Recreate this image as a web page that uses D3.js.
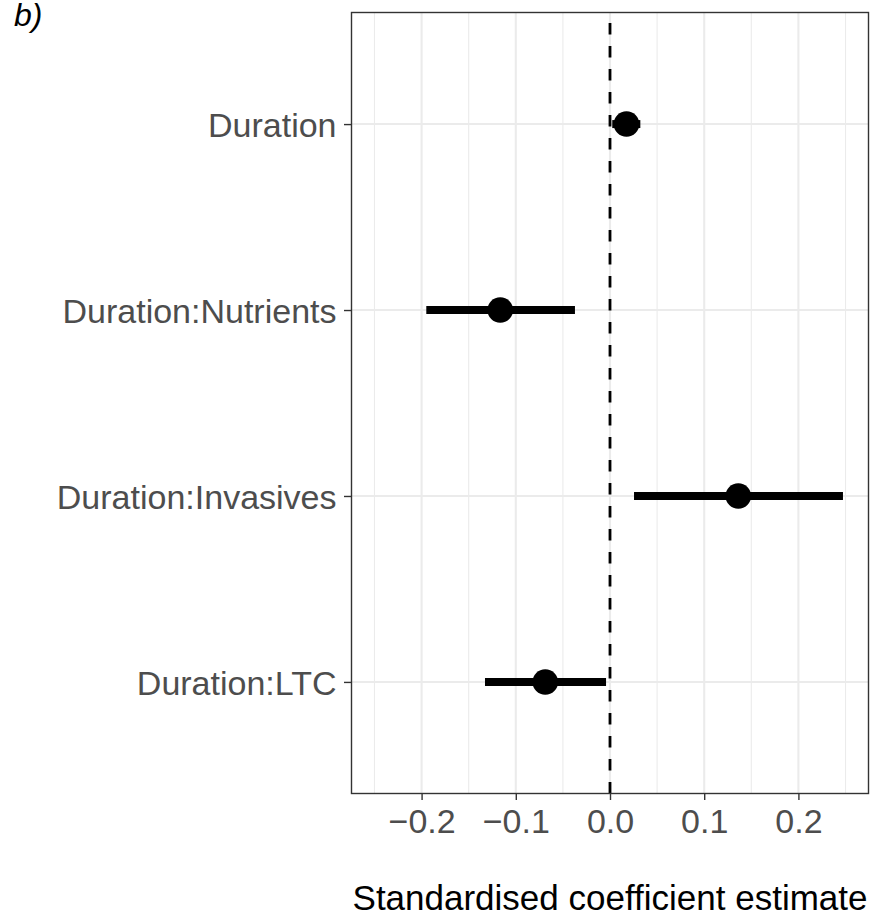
<!DOCTYPE html>
<html>
<head>
<meta charset="utf-8">
<script src="https://cdn.jsdelivr.net/npm/d3@7"></script>
<style>
  body { margin: 0; background: #ffffff; }
  svg { display: block; font-family: "Liberation Sans", Arial, sans-serif; }
</style>
</head>
<body>
<div id="chart"></div>
<script>
// coefficient table, top to bottom
var terms = ['Duration', 'Duration:Nutrients', 'Duration:Invasives', 'Duration:LTC'];
var estimates = [0.0175, -0.1165, 0.1362, -0.0687];
var lower = [0.0024, -0.195, 0.0255, -0.1327];
var upper = [0.0322, -0.0372, 0.2473, -0.0042];
var xTicks = [-0.2, -0.1, 0.0, 0.1, 0.2];
var xMinor = [-0.25, -0.15, -0.05, 0.05, 0.15, 0.25];

var outerWidth = 873;
var outerHeight = 915;
var panel = {left: 351.5, right: 868.5, top: 12.5, bottom: 793.5};

var svg = d3.select('#chart').append('svg')
  .attr('width', outerWidth)
  .attr('height', outerHeight);

svg.append('rect')
  .attr('width', outerWidth)
  .attr('height', outerHeight)
  .attr('fill', '#ffffff');

var x = d3.scaleLinear()
  .domain([-0.2744, 0.2744])
  .range([panel.left, panel.right]);

var y = d3.scalePoint()
  .domain(terms)
  .range([panel.top, panel.bottom])
  .padding(0.6);

var data = terms.map(function (t, i) {
  return {term: t, est: estimates[i], lo: lower[i], hi: upper[i]};
});

// grid
var grid = svg.append('g');
grid.selectAll('line.minor')
  .data(xMinor)
  .enter().append('line')
  .attr('class', 'minor')
  .attr('x1', function (d) { return x(d); })
  .attr('x2', function (d) { return x(d); })
  .attr('y1', panel.top)
  .attr('y2', panel.bottom)
  .attr('stroke', '#ebebeb')
  .attr('stroke-width', 1.1);

grid.selectAll('line.major')
  .data(xTicks)
  .enter().append('line')
  .attr('class', 'major')
  .attr('x1', function (d) { return x(d); })
  .attr('x2', function (d) { return x(d); })
  .attr('y1', panel.top)
  .attr('y2', panel.bottom)
  .attr('stroke', '#ebebeb')
  .attr('stroke-width', 2.1);

grid.selectAll('line.hmajor')
  .data(terms)
  .enter().append('line')
  .attr('class', 'hmajor')
  .attr('x1', panel.left)
  .attr('x2', panel.right)
  .attr('y1', function (d) { return y(d); })
  .attr('y2', function (d) { return y(d); })
  .attr('stroke', '#ebebeb')
  .attr('stroke-width', 2.1);

// zero reference line, dashes start at the bottom like grid does
svg.append('line')
  .attr('x1', x(0))
  .attr('x2', x(0))
  .attr('y1', panel.bottom)
  .attr('y2', panel.top)
  .attr('stroke', '#000000')
  .attr('stroke-width', 2.8)
  .attr('stroke-dasharray', '11.5,11.5');

// intervals and points
var marks = svg.append('g');
marks.selectAll('line.ci')
  .data(data)
  .enter().append('line')
  .attr('class', 'ci')
  .attr('x1', function (d) { return x(d.lo); })
  .attr('x2', function (d) { return x(d.hi); })
  .attr('y1', function (d) { return y(d.term); })
  .attr('y2', function (d) { return y(d.term); })
  .attr('stroke', '#000000')
  .attr('stroke-width', 8);

marks.selectAll('circle')
  .data(data)
  .enter().append('circle')
  .attr('cx', function (d) { return x(d.est); })
  .attr('cy', function (d) { return y(d.term); })
  .attr('r', 12.8)
  .attr('fill', '#000000');

// panel border
svg.append('rect')
  .attr('x', panel.left)
  .attr('y', panel.top)
  .attr('width', panel.right - panel.left)
  .attr('height', panel.bottom - panel.top)
  .attr('fill', 'none')
  .attr('stroke', '#333333')
  .attr('stroke-width', 1.4);

// axes
var xAxis = d3.axisBottom(x)
  .tickValues(xTicks)
  .tickSize(6.5)
  .tickPadding(9)
  .tickFormat(function (d) { return d3.format('.1f')(d).replace('-', '\u2212'); });

var gx = svg.append('g')
  .attr('transform', 'translate(0,' + panel.bottom + ')')
  .call(xAxis);
gx.select('.domain').remove();
gx.selectAll('.tick line').attr('stroke', '#333333').attr('stroke-width', 1.4);
gx.selectAll('.tick text')
  .attr('fill', '#4d4d4d')
  .attr('font-size', 34)
  .attr('font-family', '"Liberation Sans", Arial, sans-serif');

var yAxis = d3.axisLeft(y)
  .tickSize(7.5)
  .tickPadding(7.5);

var gy = svg.append('g')
  .attr('transform', 'translate(' + panel.left + ',0)')
  .call(yAxis);
gy.select('.domain').remove();
gy.selectAll('.tick line').attr('stroke', '#333333').attr('stroke-width', 1.4);
gy.selectAll('.tick text')
  .attr('fill', '#4d4d4d')
  .attr('font-size', 34)
  .attr('dy', '0.36em')
  .attr('font-family', '"Liberation Sans", Arial, sans-serif');

// axis title
svg.append('text')
  .attr('x', (panel.left + panel.right) / 2)
  .attr('y', 909.5)
  .attr('text-anchor', 'middle')
  .attr('font-size', 35)
  .attr('fill', '#000000')
  .text('Standardised coefficient estimate');

// panel tag
svg.append('text')
  .attr('x', 14)
  .attr('y', 25.5)
  .attr('font-size', 32)
  .attr('font-style', 'italic')
  .attr('fill', '#000000')
  .text('b)');
</script>
</body>
</html>
